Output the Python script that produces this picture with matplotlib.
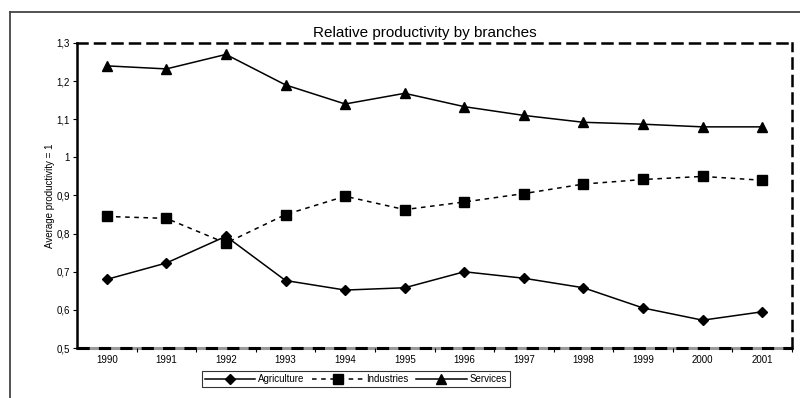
import matplotlib.pyplot as plt
from matplotlib.lines import Line2D

plt.rcParams['font.family'] = ['Liberation Sans', 'DejaVu Sans']

years = ["1990","1991","1992","1993","1994","1995","1996","1997","1998","1999","2000","2001"]
agriculture = [0.68,0.723,0.793,0.677,0.652,0.658,0.70,0.683,0.658,0.605,0.573,0.595]
industries = [0.845,0.84,0.775,0.85,0.898,0.863,0.883,0.905,0.93,0.942,0.95,0.94]
services = [1.24,1.232,1.27,1.19,1.14,1.168,1.133,1.11,1.092,1.087,1.08,1.08]

fig = plt.figure(figsize=(8,3.98), dpi=100)
fig.set_facecolor("white")
ax = fig.add_axes([0.09625, 0.1256, 0.89375, 0.7664])

# outer frame around the chart
fig.add_artist(Line2D([0.0125,0.0125],[0.0,0.97], color='#444444', lw=1.3, transform=fig.transFigure))
fig.add_artist(Line2D([0.0125,1.0],[0.97,0.97], color='#444444', lw=1.3, transform=fig.transFigure))

x = range(len(years))
ax.plot(x, agriculture, color='black', lw=1.1, marker='D', ms=5, label='Agriculture')
ax.plot(x, industries, color='black', lw=1.1, ls=(0,(3,3)), marker='s', ms=6.5, label='Industries')
ax.plot(x, services, color='black', lw=1.1, marker='^', ms=6.5, label='Services')

ax.set_xlim(-0.5, len(years)-0.5)
ax.set_ylim(0.5, 1.3)
ax.set_yticks([0.5,0.6,0.7,0.8,0.9,1.0,1.1,1.2,1.3])
ax.set_yticklabels(["0,5","0,6","0,7","0,8","0,9","1","1,1","1,2","1,3"], fontsize=7)
ax.set_xticks(list(x))
ax.set_xticklabels(years, fontsize=7)
ax.set_xticks([i+0.5 for i in range(len(years))], minor=True)
ax.tick_params(axis='x', which='major', length=0, pad=5)
ax.tick_params(axis='x', which='minor', length=3, color='black', width=0.8, direction='out')
ax.tick_params(axis='y', length=3, width=0.8, pad=2)
ax.set_ylabel("Average productivity = 1", fontsize=7, labelpad=1)
ax.set_title("Relative productivity by branches", fontsize=11, pad=4, x=0.487)

ax.spines['left'].set_linewidth(1.8)
ax.spines['bottom'].set_visible(False)
for s in ['top','right']:
    ax.spines[s].set_linewidth(1.8)
    ax.spines[s].set_linestyle((0,(4,3)))
# bottom axis: black dashes over a gray line
ax.axhline(0.5, color='#999999', lw=2.2, clip_on=False, zorder=1)
ax.axhline(0.5, color='black', lw=2.2, ls=(0,(4,3)), clip_on=False, zorder=2)

leg = ax.legend(loc='center', bbox_to_anchor=(0.39, -0.102), ncol=3, fontsize=7,
                frameon=True, fancybox=False, edgecolor='black', handlelength=5.2,
                handletextpad=0.3, columnspacing=0.8, borderpad=0.3)
leg.get_frame().set_linewidth(0.8)

fig.savefig('out.png', dpi=100)
